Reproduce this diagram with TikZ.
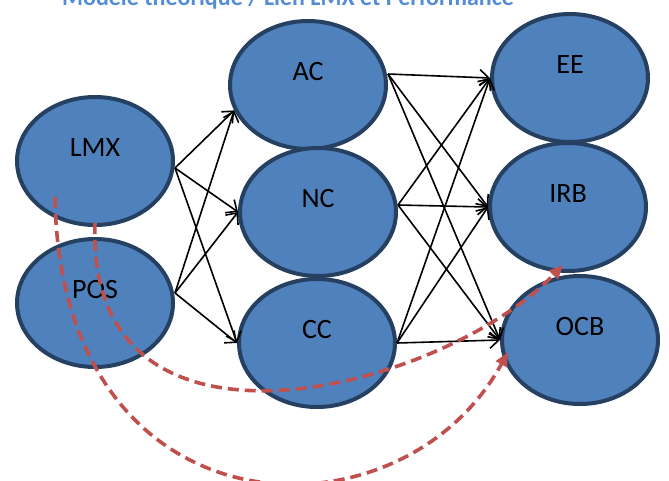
\documentclass[tikz,border=0pt]{standalone}
\usepackage{fontspec}
\setmainfont{Carlito}
\usepackage{tikz}
\usetikzlibrary{arrows.meta,shapes.geometric}

\definecolor{nodefill}{RGB}{79,129,189}
\definecolor{nodeline}{RGB}{37,64,97}
\definecolor{titleblue}{RGB}{84,141,212}
\definecolor{linkred}{RGB}{192,80,77}

\tikzset{
  var/.style={ellipse, draw=nodeline, fill=nodefill, line width=4pt,
    minimum width=156pt, minimum height=128pt, inner sep=0pt,
    text height=18pt, text depth=28pt,
    font=\fontsize{28}{32}\selectfont},
  link/.style={black, line width=1.6pt, -{Straight Barb[length=9pt,width=16pt]}},
  moderation/.style={linkred, line width=3.6pt, dash pattern=on 11pt off 6pt,
    -{Triangle[length=14pt,width=12pt]}}
}

\begin{document}
\begin{tikzpicture}[x=1pt, y=-1pt]
    \clip (0,0) rectangle (669,480);
    \node[anchor=base, text=titleblue, font=\bfseries\fontsize{24}{28}\selectfont] (title) at (288,5) {Modèle théorique / Lien LMX et Performance};

    % antecedents
    \node[var] (LMX) at (95,161) {LMX};
    \node[var] (POS) at (95,303) {POS};
    % commitment
    \node[var] (AC) at (308,85) {AC};
    \node[var] (NC) at (318,212) {NC};
    \node[var] (CC) at (317,343) {CC};
    % outcomes
    \node[var] (EE) at (570,78) {EE};
    \node[var] (IRB) at (568,207) {IRB};
    \node[var] (OCB) at (580,340) {OCB};

    \coordinate (lmxout) at ([yshift=-7pt]LMX.east);
    \coordinate (posout) at ([yshift=10pt]POS.east);
    \draw[link] (lmxout) -- (AC.199);
    \draw[link] (lmxout) -- (NC.west);
    \draw[link] (lmxout) -- (CC.west);
    \draw[link] (posout) -- (AC.199);
    \draw[link] (posout) -- (NC.west);
    \draw[link] (posout) -- (CC.west);

    \coordinate (acout) at ([yshift=11pt]AC.east);
    \coordinate (ncout) at ([yshift=7pt]NC.east);
    \foreach \src in {acout, ncout, CC.east} {
        \draw[link] (\src) -- (EE.west);
        \draw[link] (\src) -- (IRB.west);
        \draw[link] (\src) -- (OCB.west);
    }

    % dashed links
    \draw[moderation] ([yshift=4pt]LMX.south) .. controls +(-10,262) and +(-120,125) .. ([shift={(-5,-8)}]IRB.south);
    \draw[moderation] ([shift={(-40,36)}]LMX.center) .. controls +(5,343) and +(-108,198) .. ([shift={(8,12)}]OCB.west);
\end{tikzpicture}
\end{document}
